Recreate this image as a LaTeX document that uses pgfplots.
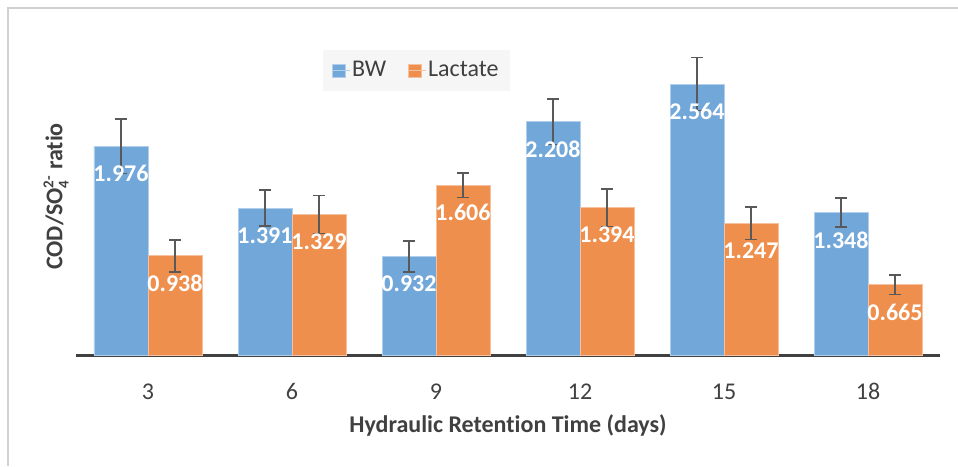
\documentclass[border=0pt]{standalone}
\usepackage{fontspec}
\setmainfont{Carlito}[Ligatures=NoCommon]
\usepackage{pgfplots}
\pgfplotsset{compat=1.18}
\usepackage{pgfplotstable}

\definecolor{bwblue}{HTML}{72A7D9}
\definecolor{lacorange}{HTML}{EF8F4E}
\definecolor{errgray}{HTML}{595959}
\definecolor{txtgray}{HTML}{404040}
\definecolor{framegray}{HTML}{D0D0D0}
\definecolor{legendbg}{HTML}{F6F6F6}

\pgfplotstableread{
x y e lab
0 1.976 0.256 1.976
1 1.391 0.170 1.391
2 0.932 0.148 0.932
3 2.208 0.216 2.208
4 2.564 0.251 2.564
5 1.348 0.139 1.348
}\bwdata

\pgfplotstableread{
x y e lab
0 0.938 0.151 0.938
1 1.329 0.180 1.329
2 1.606 0.117 1.606
3 1.394 0.178 1.394
4 1.247 0.155 1.247
5 0.665 0.093 0.665
}\lacdata

\begin{document}
\fontsize{24}{29}\selectfont
\begin{tikzpicture}[x=1pt,y=1pt]
\useasboundingbox (0,0) rectangle (958,466);
\draw[framegray, line width=1.5pt] (8,0) -- (8,458) -- (958,458);
\begin{axis}[
  at={(76pt,111pt)}, anchor=south west,
  scale only axis, width=864pt, height=317pt,
  xmin=-0.5, xmax=5.5, ymin=0, ymax=3,
  ybar=0pt, bar width=54pt,
  axis x line*=bottom, axis y line*=left,
  x axis line style={line width=3pt, txtgray},
  y axis line style={draw=none},
  xtick={0,...,5}, xticklabels={3,6,9,12,15,18},
  xtick style={draw=none}, ytick=\empty,
  xticklabel style={anchor=center, yshift=-32.5pt, text=txtgray},
  xlabel={Hydraulic Retention Time (days)},
  xlabel style={at={(rel axis cs:0.5,-0.2208)}, anchor=center, font=\bfseries, text=txtgray},
  ylabel={COD/SO$_{\mbox{\fontsize{15}{15}\selectfont 4}}^{\mbox{\fontsize{15}{15}\selectfont 2-}}$ ratio},
  ylabel style={at={(rel axis cs:-0.02315,0.5)}, anchor=center, rotate=0, font=\bfseries, text=txtgray},
  nodes near coords, point meta=explicit symbolic,
  every node near coord/.append style={text=white, font=\bfseries, anchor=center, yshift=-27.5pt},
  error bars/y dir=both, error bars/y explicit,
  error bars/error bar style={errgray, line width=1.5pt},
  error bars/error mark options={rotate=90, mark size=6pt, line width=1.5pt, errgray},
  legend style={at={(rel axis cs:0.286,0.962)}, anchor=north west, fill=legendbg, draw=none,
    text=txtgray, inner xsep=9pt, inner ysep=9pt,
    /tikz/every even column/.append style={column sep=20pt}},
  legend columns=2,
  every axis plot post/.append style={legend image code/.code={\fill[##1] (0pt,-6.5pt) rectangle (13pt,6.5pt); \path (0pt,0pt) -- (17pt,0pt);}},
]
\addplot[fill=bwblue, draw=bwblue!55!white, line width=0.8pt] table[x=x, y=y, y error=e, meta=lab] {\bwdata};
\addplot[fill=lacorange, draw=lacorange!55!white, line width=0.8pt] table[x=x, y=y, y error=e, meta=lab] {\lacdata};
\legend{BW, Lactate}
\end{axis}
\end{tikzpicture}
\end{document}
